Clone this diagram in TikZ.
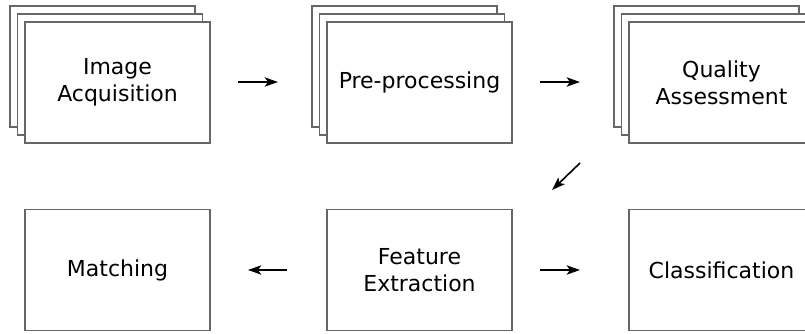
\documentclass[tikz,border=0pt]{standalone}
\usepackage{fontspec}
\setmainfont{DejaVu Sans}
\usepackage{tkz-euclide}
\usepackage{tikz}
\usetikzlibrary{arrows.meta}

\tikzset{
  stage/.style={draw=black!60, line width=1.1pt, fill=white, inner sep=0pt,
    minimum width=138.75pt, minimum height=90.75pt, align=center,
    font=\fontsize{16.5}{20.5}\selectfont},
  flow/.style={-{Stealth[length=10pt,width=7pt,inset=2.5pt]}, line width=1.2pt}
}

\begin{document}
\begin{tikzpicture}[x=0.75pt, y=-0.75pt]
    \useasboundingbox (0,0) rectangle (805,334);
    \tkzDefPoints{117.5/82.5/I,419.5/82.5/P,721.5/82.5/Q,117.5/270/M,419.5/270/F,721.5/270/C}
    \tkzDefPoints{238/82/a1,278/82/a2,540/82/b1,580/82/b2,580/163/c1,552/190/c2}
    \tkzDefPoints{287/270/d1,248/270/d2,540/270/e1,580/270/e2}
    % stacked stages
    \node[stage] (I3) at ([shift={(-15,-16)}]I) {};
    \node[stage] (I2) at ([shift={(-7.5,-8)}]I) {};
    \node[stage] (I1) at (I) {Image\\Acquisition};
    \node[stage] (P3) at ([shift={(-15,-16)}]P) {};
    \node[stage] (P2) at ([shift={(-7.5,-8)}]P) {};
    \node[stage] (P1) at (P) {Pre-processing};
    \node[stage] (Q3) at ([shift={(-15,-16)}]Q) {};
    \node[stage] (Q2) at ([shift={(-7.5,-8)}]Q) {};
    \node[stage] (Q1) at (Q) {Quality\\Assessment};
    % single stages
    \node[stage] (M1) at (M) {Matching};
    \node[stage] (F1) at (F) {Feature\\Extraction};
    \node[stage] (C1) at (C) {Classification};
    % arrows
    \draw[flow] (a1) -- (a2);
    \draw[flow] (b1) -- (b2);
    \draw[flow] (c1) -- (c2);
    \draw[flow] (d1) -- (d2);
    \draw[flow] (e1) -- (e2);
\end{tikzpicture}
\end{document}
